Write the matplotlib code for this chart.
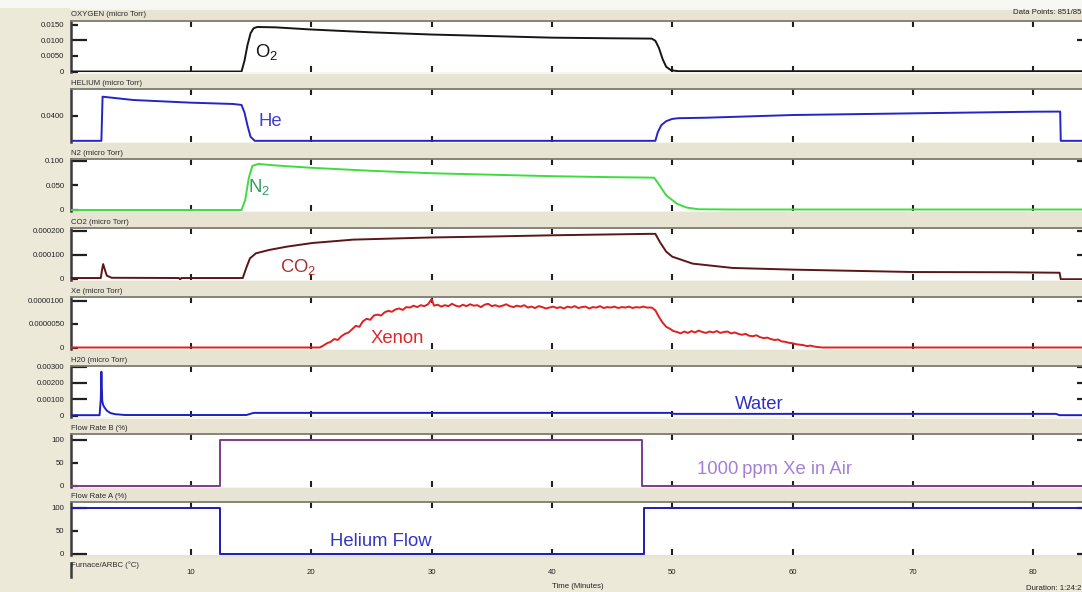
import numpy as np
import matplotlib
matplotlib.use('Agg')
import matplotlib.pyplot as plt
from matplotlib.patches import Rectangle

plt.rcParams['font.family'] = ['Liberation Sans', 'DejaVu Sans']

# ---------------- data (time in minutes) ----------------
x_ticks = [10, 20, 30, 40, 50, 60, 70, 80]
x_tick_labels = ['10', '20', '30', '40', '50', '60', '70', '80']

o2_t = [0, 14.2, 14.45, 14.7, 14.95, 15.2, 15.5, 17, 20, 25, 30, 35, 40, 45, 48.3, 48.6, 48.9, 49.2, 49.5, 49.9, 50.5, 85]
o2_v = [0, 0, 0.0035, 0.0085, 0.0122, 0.0138, 0.0142, 0.0141, 0.0134, 0.0125, 0.0118, 0.0113, 0.0108,
        0.0106, 0.0105, 0.0098, 0.0075, 0.0040, 0.0015, 0.0004, 0.0001, 0.0001]

he_t = [0, 2.55, 2.65, 3.0, 5.2, 10, 13.5, 14.2, 14.45, 14.7, 14.95, 15.3, 48.6, 48.8, 49.1, 49.5, 50.0,
        50.5, 52.9, 60, 70, 80, 82.25, 82.3, 85]
he_v = [0.0018, 0.0018, 0.0697, 0.0690, 0.0646, 0.0605, 0.0585, 0.0570, 0.045, 0.025, 0.008, 0.0018,
        0.0018, 0.015, 0.026, 0.032, 0.0355, 0.0366, 0.0374, 0.0415, 0.0441, 0.0466, 0.0468, 0.0018, 0.0018]

n2_t = [0, 14.2, 14.5, 14.8, 15.1, 15.6, 17, 20.1, 25, 30, 35, 40, 45, 48.5, 48.9, 49.5, 50.4, 51.2, 52.2, 55, 85]
n2_v = [0, 0, 0.020, 0.065, 0.090, 0.094, 0.091, 0.086, 0.080, 0.075, 0.072, 0.069, 0.067, 0.066, 0.052,
        0.030, 0.0127, 0.005, 0.0015, 0.001, 0.001]

co2_t = [0, 2.5, 2.62, 2.7, 2.85, 3.0, 3.4, 9.0, 9.1, 9.2, 14.3, 14.6, 14.9, 15.4, 16.5, 18, 20.1, 23.5,
         30, 35, 40, 44, 48.1, 48.6, 49.0, 49.5, 50.0, 51.7, 55, 60, 70, 78, 82.2, 82.3, 85]
co2_v_e6 = [2, 2, 40, 60, 35, 12, 3, 2, -4, 2, 2, 45, 84, 105, 119, 133, 148, 162, 171, 175, 180, 183,
            186, 186, 150, 112, 91, 62, 44, 37, 27, 26, 24, -3, -3]

xe_t = [0.0, 20.7, 21.0, 21.3, 21.6, 21.9, 22.2, 22.5, 22.8, 23.1, 23.4, 23.7, 24.0, 24.3, 24.6, 24.9,
        25.2, 25.5, 25.8, 26.1, 26.4, 26.7, 27.0, 27.3, 27.6, 27.9, 28.2, 28.5, 28.8, 29.1, 29.4, 29.7,
        30.0, 30.2, 30.5, 30.8, 31.1, 31.4, 31.7, 32.0, 32.3, 32.6, 32.9, 33.2, 33.5, 33.8, 34.1, 34.4,
        34.7, 35.0, 35.3, 35.6, 35.9, 36.2, 36.5, 36.8, 37.1, 37.4, 37.7, 38.0, 38.3, 38.6, 38.9, 39.2,
        39.5, 39.8, 40.1, 40.4, 40.7, 41.0, 41.3, 41.6, 41.9, 42.2, 42.5, 42.8, 43.1, 43.4, 43.7, 44.0,
        44.3, 44.6, 44.9, 45.2, 45.5, 45.8, 46.1, 46.4, 46.7, 47.0, 47.3, 47.6, 47.9, 48.3, 48.6, 48.9,
        49.2, 49.5, 49.8, 50.1, 50.4, 50.7, 51.0, 51.3, 51.6, 51.9, 52.2, 52.5, 52.8, 53.1, 53.4, 53.7,
        54.0, 54.3, 54.6, 54.9, 55.2, 55.5, 55.8, 56.1, 56.4, 56.7, 57.0, 57.3, 57.6, 57.9, 58.2, 58.5,
        58.8, 59.1, 59.4, 59.7, 60.0, 60.3, 60.6, 60.9, 61.2, 61.5, 61.8, 62.1, 62.5, 85.0]
xe_v_e6 = [0.0, 0.0, 0.4, 0.9, 1.2, 1.8, 1.6, 2.4, 2.9, 3.2, 3.9, 4.6, 4.4, 5.6, 6.1, 5.9,
           6.8, 7.0, 6.8, 7.5, 7.8, 7.6, 8.1, 8.3, 8.0, 8.6, 8.5, 8.9, 8.6, 9.0, 8.8, 9.2,
           10.3, 8.9, 9.1, 8.7, 9.0, 8.8, 9.3, 8.9, 8.7, 9.1, 8.8, 9.2, 8.9, 9.0, 8.6, 9.1,
           9.3, 8.8, 9.0, 8.7, 8.9, 9.2, 8.8, 8.6, 8.9, 8.7, 9.0, 8.5, 8.7, 8.4, 8.8, 8.6,
           8.3, 8.5, 8.7, 8.4, 8.6, 8.3, 8.7, 8.5, 8.8, 8.4, 8.6, 8.7, 8.3, 8.6, 8.5, 8.8,
           8.4, 8.6, 8.5, 8.7, 8.4, 8.6, 8.5, 8.7, 8.4, 8.6, 8.5, 8.7, 8.5, 8.5, 7.9, 6.5,
           5.3, 4.4, 4.0, 3.5, 3.3, 3.0, 3.4, 3.1, 3.5, 3.2, 3.6, 3.3, 3.1, 3.4, 3.2, 3.5,
           3.1, 3.3, 3.4, 3.0, 3.2, 2.9, 2.7, 2.9, 2.5, 2.4, 2.6, 2.2, 2.0, 2.1, 1.8, 1.6,
           1.7, 1.3, 1.2, 1.0, 0.9, 0.7, 0.6, 0.5, 0.3, 0.4, 0.2, 0.1, 0.0, 0.0]

h2o_t = [0, 2.4, 2.5, 2.55, 2.62, 2.7, 2.8, 3.0, 3.3, 3.7, 4.5, 14.6, 15.2, 49.8, 50.2, 81.9, 82.2, 85]
h2o_v = [0.00002, 0.00002, 0.0010, 0.00268, 0.0009, 0.00064, 0.0005, 0.00030, 0.00015, 0.00008, 0.00003,
         0.00003, 0.00016, 0.00016, 0.00010, 0.00010, 0.00002, 0.00002]

flow_b_t = [0, 12.41, 12.41, 47.49, 47.49, 85]
flow_b_v = [0, 0, 100, 100, 0, 0]

flow_a_t = [0, 12.41, 12.41, 47.69, 47.69, 85]
flow_a_v = [100, 100, 0, 0, 100, 100]

co2_v = [v * 1e-6 for v in co2_v_e6]
xe_v = [v * 1e-6 for v in xe_v_e6]

# ---------------- layout (pixels) ----------------
W, H = 1082, 592
X_LEFT_PX = 70.7
PX_PER_MIN = 12.03
X_MAX = 85.0
X_RIGHT_PX = X_LEFT_PX + X_MAX * PX_PER_MIN


def fx(px):
    return px / W


def fy(py):
    return 1 - py / H


panels = [
    dict(title='OXYGEN (micro Torr)', t=o2_t, v=o2_v, color='#161616', top=20.5, bot=72.0,
         hi=(0.015, 24.5), lo=(0.0, 71.5),
         long=[0.0100], long_lab=['0.0100'],
         short=[0.0150, 0.0050, 0.0], short_lab=['0.0150', '0.0050', '0'],
         note=('O$_\\mathregular{2}$', 15.3, 0.0062, '#151515')),
    dict(title='HELIUM (micro Torr)', t=he_t, v=he_v, color='#2424c8', top=89.0, bot=141.5,
         hi=(0.04, 116.0), lo=(0.0, 142.0),
         long=[], long_lab=[], short=[0.04], short_lab=['0.0400'],
         note=('He', 15.57, 0.0323, '#4040d0')),
    dict(title='N2 (micro Torr)', t=n2_t, v=n2_v, color='#3fdc3f', top=159.0, bot=211.0,
         hi=(0.1, 161.0), lo=(0.0, 210.0),
         long=[0.1], long_lab=['0.100'], short=[0.05, 0.0], short_lab=['0.050', '0'],
         note=('N$_\\mathregular{2}$', 14.74, 0.047, '#2f9e63')),
    dict(title='CO2 (micro Torr)', t=co2_t, v=co2_v, color='#5c1616', top=228.0, bot=279.5,
         hi=(0.0002, 230.5), lo=(0.0, 278.5),
         long=[0.0002, 0.0001], long_lab=['0.000200', '0.000100'], short=[0.0], short_lab=['0'],
         note=('CO$_\\mathregular{2}$', 17.4, 0.000046, '#a83232')),
    dict(title='Xe (micro Torr)', t=xe_t, v=xe_v, color='#e02020', top=297.0, bot=348.5,
         hi=(1e-5, 300.5), lo=(0.0, 347.5),
         long=[1e-5], long_lab=['0.0000100'], short=[5e-6, 0.0], short_lab=['0.0000050', '0'],
         note=('Xenon', 24.9, 2.0e-6, '#e02828')),
    dict(title='H20 (micro Torr)', t=h2o_t, v=h2o_v, color='#1f1fc4', top=366.0, bot=417.0,
         hi=(0.003, 366.5), lo=(0.0, 415.5),
         long=[0.003, 0.002, 0.001], long_lab=['0.00300', '0.00200', '0.00100'],
         short=[0.0], short_lab=['0'],
         note=('Water', 55.2, 0.0007, '#3030c0')),
    dict(title='Flow Rate B (%)', t=flow_b_t, v=flow_b_v, color='#7e3a8a', top=434.0, bot=486.5,
         hi=(100, 439.5), lo=(0, 485.5),
         long=[100], long_lab=['100'], short=[50, 0], short_lab=['50', '0'],
         note=('1000\u2009ppm Xe in Air', 52.1, 33.7, '#a47fd8')),
    dict(title='Flow Rate A (%)', t=flow_a_t, v=flow_a_v, color='#1c1cb8', top=502.0, bot=554.5,
         hi=(100, 507.5), lo=(0, 553.5),
         long=[100, 0], long_lab=['100', '0'], short=[50], short_lab=['50'],
         note=('Helium Flow', 21.55, 27.0, '#3535c5')),
]

fig = plt.figure(figsize=(W / 100, H / 100), dpi=100, facecolor='#ece9d8')
fig.add_artist(Rectangle((0, fy(8)), 1, 8 / H, transform=fig.transFigure,
                         facecolor='#f7f7f4', edgecolor='none', zorder=0))

TICK_COLOR = '#202020'
LAB_SIZE = 5.6

prev_bot = 8
for p in panels:
    top, bot = p['top'], p['bot']
    (vh, yh), (vl, yl) = p['hi'], p['lo']
    s = (vh - vl) / (yl - yh)
    ymin = vl - (bot - yl) * s
    ymax = vh + (yh - top) * s

    # title band
    fig.add_artist(Rectangle((fx(X_LEFT_PX - 1), fy(top)), 1, (top - prev_bot) / H,
                             transform=fig.transFigure, facecolor='#e7e4d3',
                             edgecolor='none', zorder=0))
    fig.add_artist(Rectangle((fx(X_LEFT_PX - 1), fy(prev_bot + 1.5)), 1, 1.5 / H,
                             transform=fig.transFigure, facecolor='#f6f5ee',
                             edgecolor='none', zorder=0))
    fig.text(fx(71), fy(top - 5.5), p['title'], fontsize=LAB_SIZE, color='#2a2a2a',
             va='center', ha='left')

    ax = fig.add_axes([fx(X_LEFT_PX), fy(bot), fx(X_RIGHT_PX) - fx(X_LEFT_PX), (bot - top) / H])
    ax.set_facecolor('white')
    ax.plot(p['t'], p['v'], color=p['color'], lw=1.4, solid_joinstyle='round', zorder=3)
    ax.set_xlim(0, X_MAX)
    ax.set_ylim(ymin, ymax)

    ax.set_xticks(x_ticks)
    ax.tick_params(axis='x', which='major', direction='in', length=4.5, width=1.5,
                   color=TICK_COLOR, top=True, bottom=True, labelbottom=False)
    ax.set_yticks(p['long'], labels=p['long_lab'])
    ax.set_yticks(p['short'], labels=p['short_lab'], minor=True)
    ax.tick_params(axis='y', which='major', direction='in', length=11.5, width=1.6,
                   color=TICK_COLOR, left=True, right=True, labelsize=LAB_SIZE, pad=4.5,
                   labelcolor='#222222')
    ax.tick_params(axis='y', which='minor', direction='in', length=5, width=1.6,
                   color=TICK_COLOR, left=True, right=True, labelsize=LAB_SIZE, pad=4.5,
                   labelcolor='#222222')

    ax.spines['left'].set_color('#3a3a3a')
    ax.spines['left'].set_linewidth(1.8)
    ax.spines['top'].set_color('#7d7b6e')
    ax.spines['top'].set_linewidth(1.3)
    ax.spines['bottom'].set_visible(False)
    ax.spines['right'].set_color('#3a3a3a')

    txt, nx, ny, ncol = p['note']
    ax.text(nx, ny, txt, fontsize=13.3, color=ncol, va='center', ha='left', zorder=4)

    prev_bot = bot

# bottom (Furnace) strip
top = 558.0
fig.add_artist(Rectangle((fx(X_LEFT_PX - 1), fy(top)), 1, (top - prev_bot) / H,
                         transform=fig.transFigure, facecolor='#e7e4d3', edgecolor='none', zorder=0))
fig.text(fx(71), fy(565), 'Furnace/ARBC (\u00b0C)', fontsize=LAB_SIZE, color='#2a2a2a',
         va='center', ha='left')
axf = fig.add_axes([fx(X_LEFT_PX), fy(577), fx(X_RIGHT_PX) - fx(X_LEFT_PX), 14 / H])
axf.set_facecolor('none')
axf.set_xlim(0, X_MAX)
axf.set_yticks([])
for sp in ['top', 'right', 'bottom']:
    axf.spines[sp].set_visible(False)
axf.spines['left'].set_color('#3a3a3a')
axf.spines['left'].set_linewidth(1.8)
axf.set_xticks(x_ticks, labels=x_tick_labels)
axf.tick_params(axis='x', length=0, pad=-5.5, labelsize=LAB_SIZE, labelcolor='#222222')

fig.text(fx(578), fy(587), 'Time (Minutes)', fontsize=LAB_SIZE, color='#222222', ha='center', va='center')
fig.text(fx(1081), fy(588), 'Duration: 1:24:2', fontsize=LAB_SIZE, color='#222222', ha='right', va='center')
fig.text(fx(1081), fy(13), 'Data Points: 851/85', fontsize=LAB_SIZE, color='#222222', ha='right', va='center')

fig.savefig('out.png', dpi=100, facecolor=fig.get_facecolor())
